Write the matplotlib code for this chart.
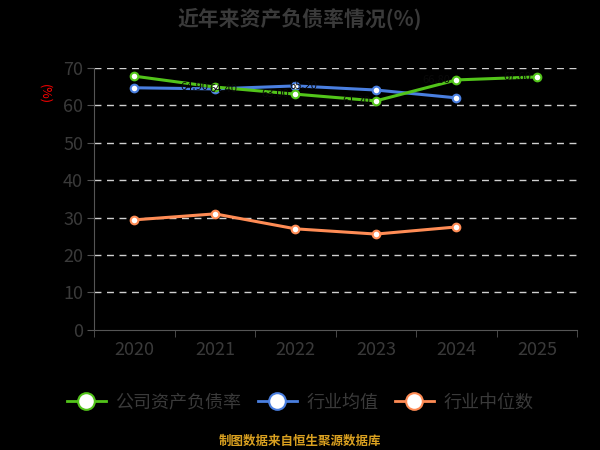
import matplotlib
matplotlib.use("Agg")
import matplotlib.pyplot as plt
from matplotlib.lines import Line2D

plt.rcParams["font.family"] = ["Noto Sans CJK SC", "DejaVu Sans"]

YEARS = ["2020", "2021", "2022", "2023", "2024", "2025"]
COMPANY = [67.8, 64.9, 63.0, 61.2, 66.8, 67.6]
IND_MEAN = [64.7, 64.4, 65.2, 64.1, 62.0]
IND_MEDIAN = [29.4, 31.0, 27.0, 25.6, 27.5]

GREEN, BLUE, ORANGE, TXT = "#52c41a", "#4a7fe0", "#ff8c55", "#3a3a3a"

fig = plt.figure(figsize=(6, 4.5), dpi=100, facecolor="black")
ax = fig.add_axes([0.157, 0.267, 0.805, 0.582], facecolor="black")

x = list(range(len(YEARS)))
kw = dict(lw=2.2, marker="o", ms=5.5, mfc="white", mew=1.5)
ax.plot(x[:len(IND_MEAN)], IND_MEAN, color=BLUE, mec=BLUE, zorder=3, **kw)
ax.plot(x[:len(IND_MEDIAN)], IND_MEDIAN, color=ORANGE, mec=ORANGE, zorder=3, **kw)
ax.plot(x, COMPANY, color=GREEN, mec=GREEN, zorder=4, **kw)

# near-black value labels, barely visible on the dark background
for i, v in enumerate(COMPANY[1:], start=1):
    ax.text(i - 0.25, v, f"{v:.2f}", color="#0a0a0a", fontsize=8, ha="center",
            va="center", zorder=5)
for i, v in enumerate(IND_MEAN[1:3], start=1):
    ax.text(i + 0.1, v, f"{v:.2f}", color="#0a0a0a", fontsize=8, ha="center",
            va="center", zorder=5)

ax.set_xlim(-0.5, len(YEARS) - 0.5)
ax.set_ylim(0, 70)
ax.set_yticks(range(0, 71, 10))
ax.set_xticks(x)
ax.set_xticklabels(YEARS)
ax.set_xticks([i - 0.5 for i in range(len(YEARS) + 1)], minor=True)
ax.tick_params(axis="x", which="major", length=0, pad=8, labelsize=13, labelcolor=TXT)
ax.tick_params(axis="x", which="minor", length=5, color="#555555")
ax.tick_params(axis="y", length=5, color="#555555", labelsize=13, labelcolor=TXT, pad=3)
for v in range(10, 71, 10):
    ax.axhline(v, color="#d0d0d0", lw=1, ls=(0, (5, 4)), zorder=1)
for s in ["top", "right"]:
    ax.spines[s].set_visible(False)
for s in ["left", "bottom"]:
    ax.spines[s].set_color("#555555")

fig.text(0.075, 0.79, "(%)", color="red", fontsize=9, rotation=-90, ha="center", va="center")
fig.text(0.5, 0.958, "近年来资产负债率情况(%)", color=TXT, fontsize=15, fontweight="bold",
         ha="center", va="center")

handles = [Line2D([0], [0], color=c, lw=2, marker="o", ms=12, mfc="white", mec=c, mew=1.5)
           for c in (GREEN, BLUE, ORANGE)]
fig.legend(handles, ["公司资产负债率", "行业均值", "行业中位数"], loc="center",
           bbox_to_anchor=(0.5, 0.105), ncol=3, frameon=False, fontsize=13,
           labelcolor=TXT, handlelength=2.2, columnspacing=0.9, handletextpad=0.5)
fig.text(0.5, 0.02, "制图数据来自恒生聚源数据库", color="#d9a020", fontsize=9,
         fontweight="bold", ha="center", va="center")

fig.savefig("out.png", dpi=100, facecolor="black")
